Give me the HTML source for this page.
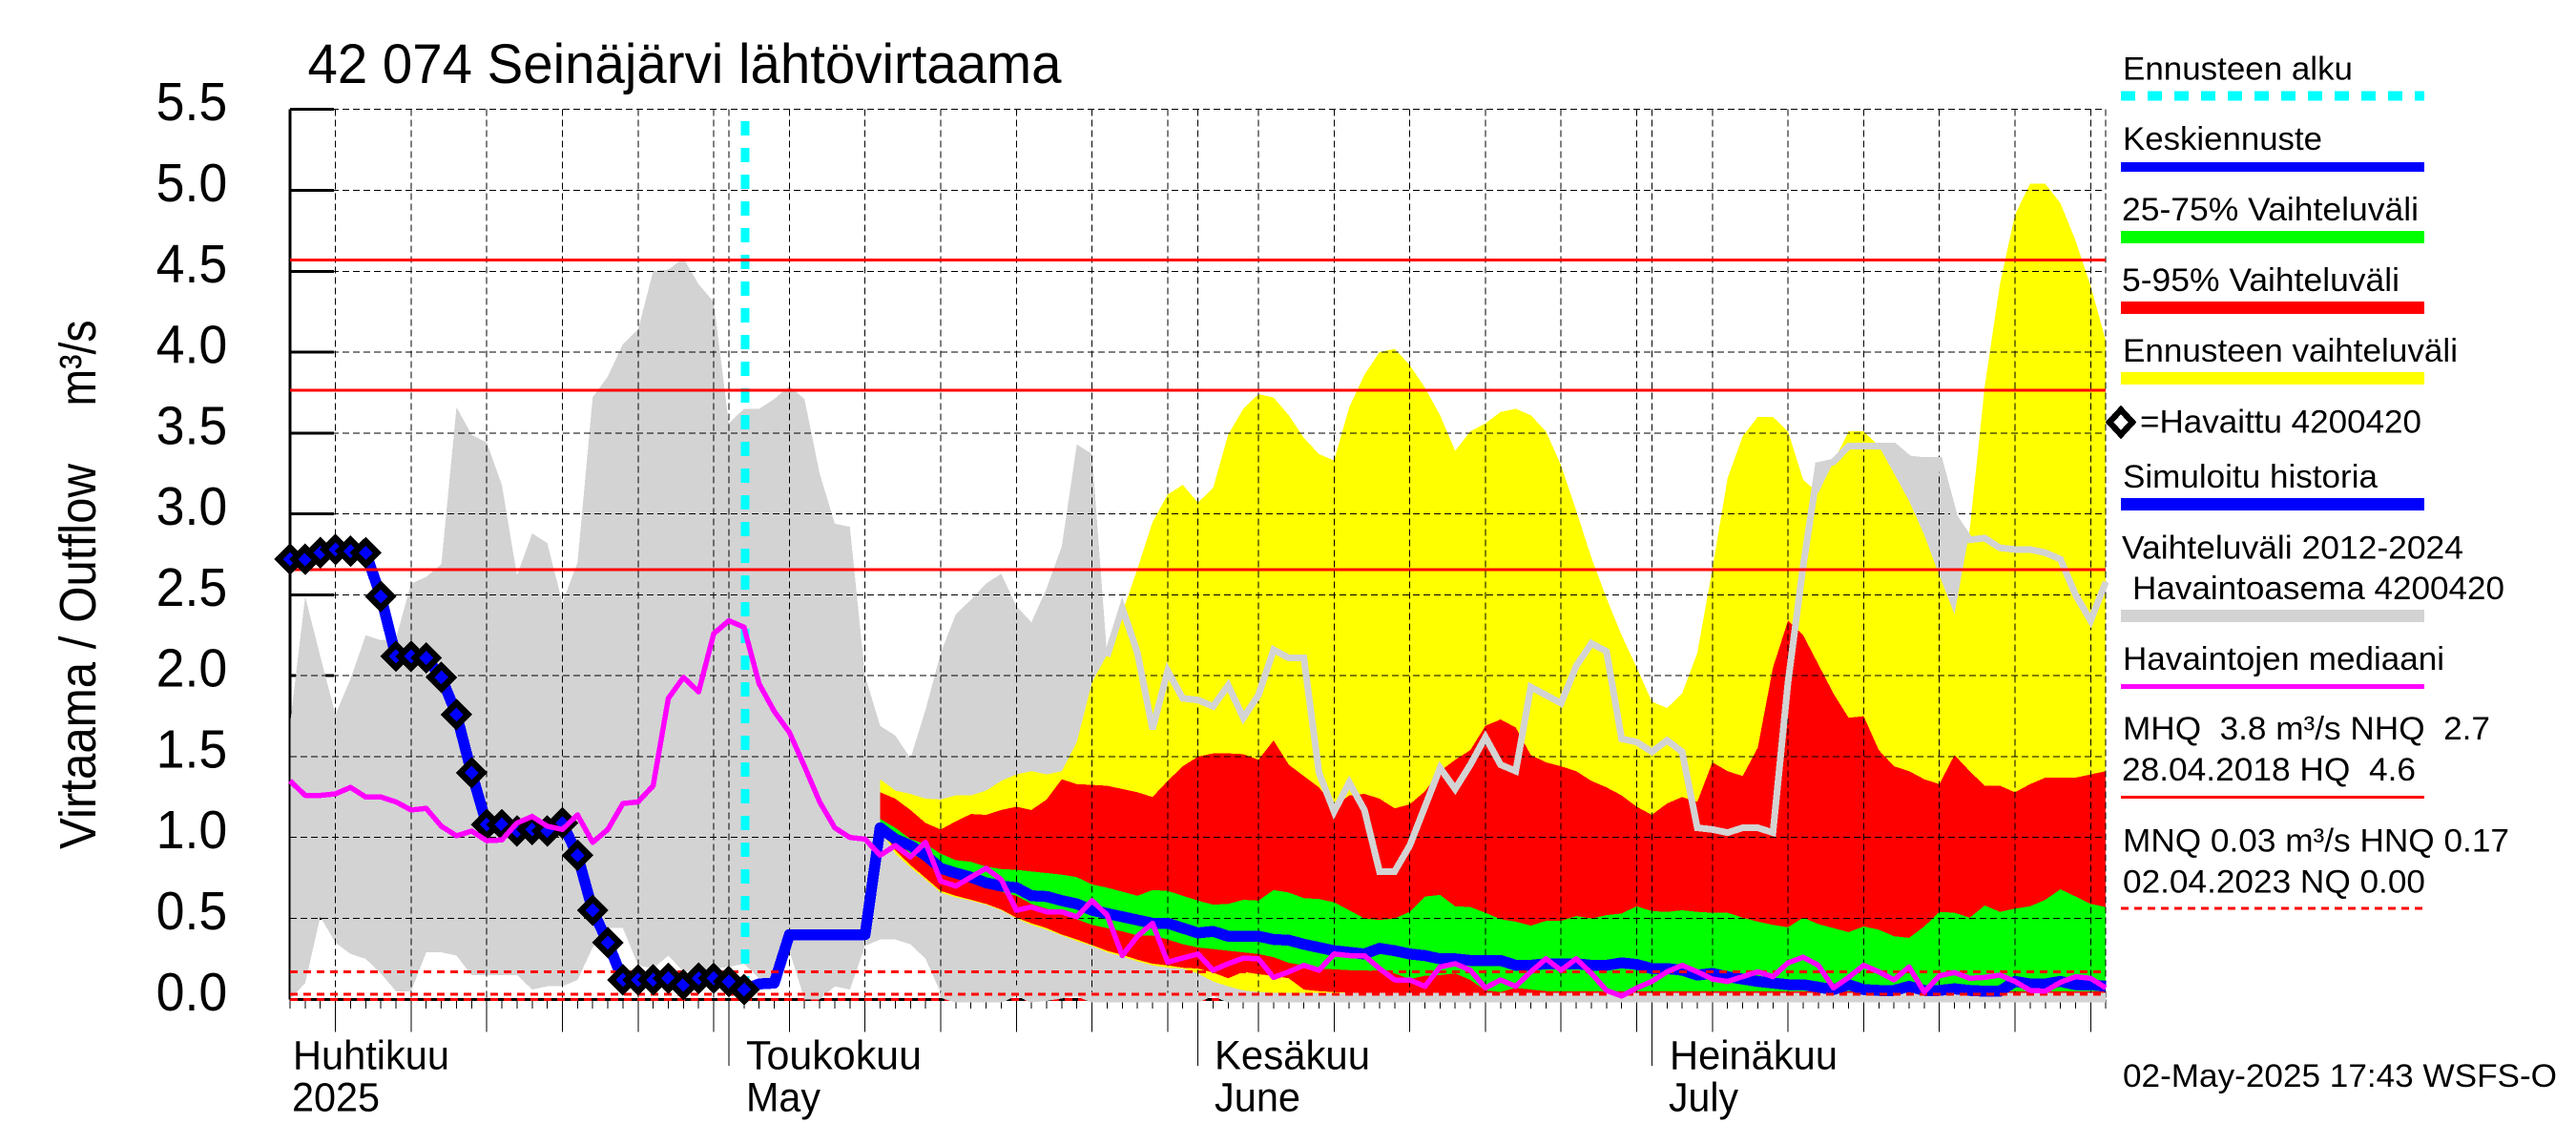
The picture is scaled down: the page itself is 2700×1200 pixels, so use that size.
<!DOCTYPE html>
<html lang="fi">
<head>
<meta charset="utf-8">
<title>42 074 Seinäjärvi lähtövirtaama</title>
<style>
html,body{margin:0;padding:0;background:#fff;width:2700px;height:1200px;overflow:hidden}
svg{display:block}
text{font-family:"Liberation Sans","DejaVu Sans",sans-serif;fill:#000}
.lg{font-size:34.5px}
.xl{font-size:42.5px}
</style>
</head>
<body>
<svg id="chart" xmlns="http://www.w3.org/2000/svg" width="2700" height="1200" viewBox="0 0 2700 1200" shape-rendering="crispEdges">
  <text x="322.5" y="87" font-size="58" textLength="790" lengthAdjust="spacingAndGlyphs">42 074 Seinäjärvi lähtövirtaama</text>
  <text transform="translate(100,890) rotate(-90)" font-size="54" textLength="404" lengthAdjust="spacingAndGlyphs">Virtaama / Outflow</text>
  <text transform="translate(100,425.5) rotate(-90)" font-size="54" textLength="90" lengthAdjust="spacingAndGlyphs">m³/s</text>

  <g id="axisBase"></g>
  <g id="bands"></g>
  <g id="grid"></g>
  <g id="lines"></g>

  <g>
    <text class="xl" x="307" y="1120.5" textLength="164" lengthAdjust="spacingAndGlyphs">Huhtikuu</text>
    <text class="xl" x="306" y="1164.5" textLength="92" lengthAdjust="spacingAndGlyphs">2025</text>
    <text class="xl" x="782" y="1120.5" textLength="184" lengthAdjust="spacingAndGlyphs">Toukokuu</text>
    <text class="xl" x="782" y="1164.5" textLength="78" lengthAdjust="spacingAndGlyphs">May</text>
    <text class="xl" x="1273" y="1120.5" textLength="163" lengthAdjust="spacingAndGlyphs">Kesäkuu</text>
    <text class="xl" x="1273" y="1164.5" textLength="90" lengthAdjust="spacingAndGlyphs">June</text>
    <text class="xl" x="1750" y="1120.5" textLength="176" lengthAdjust="spacingAndGlyphs">Heinäkuu</text>
    <text class="xl" x="1749" y="1164.5" textLength="73" lengthAdjust="spacingAndGlyphs">July</text>
  </g>

  <g>
    <text class="lg" x="2225" y="83.5" textLength="241" lengthAdjust="spacingAndGlyphs">Ennusteen alku</text>
    <line x1="2223" x2="2541" y1="100.5" y2="100.5" stroke="#00ffff" stroke-width="10" stroke-dasharray="15 13"/>
    <text class="lg" x="2225" y="157" textLength="209" lengthAdjust="spacingAndGlyphs">Keskiennuste</text>
    <rect x="2223" y="170" width="318" height="10" fill="#0000ff"/>
    <text class="lg" x="2224" y="231" textLength="311" lengthAdjust="spacingAndGlyphs">25-75% Vaihteluväli</text>
    <rect x="2223" y="242" width="318" height="13" fill="#00ff00"/>
    <text class="lg" x="2224" y="305" textLength="291" lengthAdjust="spacingAndGlyphs">5-95% Vaihteluväli</text>
    <rect x="2223" y="316" width="318" height="13" fill="#ff0000"/>
    <text class="lg" x="2225" y="379" textLength="351" lengthAdjust="spacingAndGlyphs">Ennusteen vaihteluväli</text>
    <rect x="2223" y="390" width="318" height="13" fill="#ffff00"/>
    <polygon points="2223,429.5 2235,442.5 2223,455.5 2211,442.5" fill="#fff" stroke="#000" stroke-width="6.5" stroke-linejoin="miter"/>
    <text class="lg" x="2243" y="453.5" textLength="295" lengthAdjust="spacingAndGlyphs">=Havaittu 4200420</text>
    <text class="lg" x="2225" y="511" textLength="267" lengthAdjust="spacingAndGlyphs">Simuloitu historia</text>
    <rect x="2223" y="522" width="318" height="13" fill="#0000ff"/>
    <text class="lg" x="2224" y="585.5" textLength="358" lengthAdjust="spacingAndGlyphs">Vaihteluväli 2012-2024</text>
    <text class="lg" x="2235" y="628" textLength="390" lengthAdjust="spacingAndGlyphs">Havaintoasema 4200420</text>
    <rect x="2223" y="639" width="318" height="13" fill="#d3d3d3"/>
    <text class="lg" x="2225" y="702" textLength="337" lengthAdjust="spacingAndGlyphs">Havaintojen mediaani</text>
    <rect x="2223" y="717" width="318" height="5" fill="#ff00ff"/>
    <text class="lg" x="2225" y="775" textLength="385" lengthAdjust="spacingAndGlyphs" xml:space="preserve">MHQ  3.8 m³/s NHQ  2.7</text>
    <text class="lg" x="2224" y="818" textLength="308" lengthAdjust="spacingAndGlyphs" xml:space="preserve">28.04.2018 HQ  4.6</text>
    <rect x="2223" y="834" width="318" height="3" fill="#ff0000"/>
    <text class="lg" x="2225" y="892.5" textLength="405" lengthAdjust="spacingAndGlyphs">MNQ 0.03 m³/s HNQ 0.17</text>
    <text class="lg" x="2225" y="935.5" textLength="317" lengthAdjust="spacingAndGlyphs">02.04.2023 NQ 0.00</text>
    <line x1="2223" x2="2541" y1="952" y2="952" stroke="#ff0000" stroke-width="3" stroke-dasharray="8 6"/>
    <text class="lg" x="2225" y="1139" textLength="455" lengthAdjust="spacingAndGlyphs">02-May-2025 17:43 WSFS-O</text>
  </g>
</svg>
<script>
// ---- chart data (daily values, day 0 = 2 April 2025, m3/s) ----
const yTickLabels = ["0.0","0.5","1.0","1.5","2.0","2.5","3.0","3.5","4.0","4.5","5.0","5.5"];
const yTickValues = [0,0.5,1,1.5,2,2.5,3,3.5,4,4.5,5,5.5];
const dayCount = 121;
const fiveDayGridDays = [3,8,13,18,23,28,33,38,43,48,53,58,64,69,74,79,84,89,94,99,104,109,114,119];
const monthStartDays = [29,60,90];
const highReferenceLevels = [4.57,3.765,2.655];
const lowReferenceLevels = [0.17,0.03];
const minimumFlowLevel = [0.0];
const forecastStartDay = 30;
const bandStartDay = 39;

const historyUpper = [1.70,2.49,2.12,1.76,1.98,2.25,2.22,2.23,2.57,2.61,2.69,3.66,3.49,3.44,3.18,2.62,2.88,2.82,2.45,2.70,
3.72,3.85,4.05,4.14,4.50,4.51,4.58,4.42,4.31,3.56,3.65,3.65,3.71,3.79,3.71,3.25,2.94,2.92,2.00,1.69,
1.63,1.49,1.79,2.14,2.38,2.47,2.57,2.63,2.43,2.33,2.54,2.80,3.43,3.37,2.12,2.42,2.14,1.67,2.03,1.86,
1.85,1.81,1.94,1.74,1.88,2.16,2.11,2.11,1.40,1.16,1.34,1.17,0.79,0.79,0.95,1.19,1.43,1.30,1.45,1.62,
1.45,1.41,1.93,1.88,1.83,2.06,2.20,2.15,1.61,1.59,1.53,1.60,1.53,1.06,1.05,1.03,1.06,1.06,1.03,1.96,
2.68,3.30,3.32,3.42,3.42,3.42,3.42,3.34,3.33,3.33,2.98,2.84,2.85,2.79,2.78,2.78,2.76,2.72,2.50,2.34,2.58];
const historyLower = [0,0.10,0.51,0.35,0.28,0.25,0.16,0.05,0.05,0.29,0.29,0.27,0.15,0.15,0.15,0.15,0.06,0.08,0.08,0.12,
0.32,0.44,0.44,0.21,0.19,0.27,0.17,0.18,0.19,0.20,0.22,0.13,0.10,0.30,0,0,0.08,0.06,0.33,0.37,
0.37,0.34,0.25,0.04,0.01,0.01,0.01,0.01,0.055,0.01,0.02,0.035,0.05,0.01,0.01,0.01,0.01,0.01,0.01,0.01,
0.01,0.055,0.01,0.01,0.01,0.01,0.01,0.01,0.01,0.01,0.01,0.01,0.01,0.01,0.01,0.01,0.01,0.01,0.01,0.01,
0.01,0.01,0.01,0.01,0.01,0.01,0.01,0.01,0.01,0.01,0.01,0.01,0.01,0.01,0.01,0.01,0.01,0.01,0.01,0.01,
0.01,0.01,0.01,0.01,0.01,0.01,0.01,0.01,0.01,0.01,0.01,0.01,0.01,0.01,0.01,0.01,0.01,0.01,0.01,0.01,0.01];

// bands: first value is day 39
const yellowUpper = [1.36,1.29,1.27,1.24,1.235,1.26,1.26,1.29,1.35,1.39,1.41,1.39,1.41,1.59,1.96,2.13,2.39,2.66,2.95,3.12,
3.18,3.07,3.16,3.49,3.65,3.74,3.72,3.61,3.47,3.37,3.33,3.66,3.86,4.00,4.02,3.92,3.78,3.61,3.39,3.51,
3.56,3.63,3.65,3.61,3.51,3.30,3.02,2.73,2.48,2.25,2.05,1.84,1.80,1.89,2.14,2.66,3.22,3.48,3.60,3.60,
3.51,3.21,3.13,3.32,3.51,3.51,3.42,3.25,3.08,2.87,2.62,2.38,2.90,3.79,4.42,4.85,5.04,5.04,4.92,4.69,4.41,4.07];
const yellowLower = [1.05,0.90,0.815,0.74,0.66,0.63,0.61,0.585,0.55,0.50,0.46,0.43,0.395,0.36,0.33,0.29,0.265,0.235,0.21,0.195,
0.19,0.16,0.11,0.08,0.055,0.045,0.04,0.03,0.03,0.03,0.02,0.02,0.02,0.02,0.02,0.02,0.02,0.02,0.02,0.02,
0.02,0.02,0.02,0.02,0.02,0.02,0.02,0.02,0.02,0.02,0.02,0.02,0.02,0.02,0.02,0.02,0.02,0.02,0.02,0.02,
0.02,0.02,0.02,0.02,0.02,0.02,0.02,0.02,0.02,0.02,0.02,0.02,0.02,0.02,0.02,0.02,0.02,0.02,0.02,0.02,0.02,0.02];
const redUpper = [1.28,1.24,1.17,1.09,1.05,1.10,1.145,1.14,1.17,1.19,1.17,1.235,1.36,1.33,1.325,1.32,1.30,1.28,1.25,1.35,
1.44,1.50,1.52,1.52,1.515,1.48,1.60,1.45,1.38,1.31,1.19,1.26,1.27,1.24,1.18,1.205,1.285,1.41,1.48,1.54,
1.69,1.73,1.68,1.51,1.465,1.44,1.41,1.35,1.31,1.26,1.19,1.14,1.21,1.25,1.22,1.465,1.41,1.38,1.555,2.05,
2.34,2.25,2.07,1.89,1.74,1.75,1.54,1.44,1.41,1.36,1.33,1.51,1.41,1.32,1.32,1.28,1.33,1.37,1.37,1.37,1.39,1.41];
const redLower = [1.07,0.92,0.83,0.75,0.67,0.64,0.615,0.59,0.555,0.505,0.47,0.44,0.40,0.37,0.335,0.30,0.275,0.245,0.22,0.21,
0.195,0.19,0.165,0.13,0.17,0.155,0.145,0.13,0.06,0.05,0.045,0.04,0.04,0.04,0.04,0.04,0.04,0.04,0.04,0.04,
0.04,0.04,0.04,0.04,0.04,0.04,0.04,0.04,0.04,0.04,0.04,0.04,0.04,0.04,0.04,0.04,0.04,0.04,0.04,0.04,
0.04,0.04,0.04,0.04,0.04,0.04,0.04,0.04,0.04,0.04,0.04,0.04,0.04,0.04,0.04,0.04,0.04,0.04,0.04,0.04,0.04,0.04];
const greenUpper = [1.115,1.06,0.99,0.96,0.90,0.86,0.85,0.82,0.805,0.80,0.79,0.78,0.77,0.755,0.71,0.69,0.665,0.64,0.675,0.67,
0.64,0.61,0.585,0.59,0.615,0.61,0.675,0.66,0.625,0.62,0.60,0.55,0.50,0.49,0.50,0.54,0.635,0.645,0.575,0.57,
0.535,0.495,0.48,0.455,0.485,0.485,0.515,0.50,0.52,0.53,0.575,0.545,0.54,0.55,0.54,0.535,0.535,0.505,0.48,0.46,
0.445,0.505,0.465,0.44,0.415,0.45,0.43,0.39,0.38,0.45,0.54,0.535,0.505,0.58,0.54,0.56,0.575,0.615,0.68,0.635,0.59,0.57];
const greenLower = [1.03,0.98,0.90,0.86,0.78,0.75,0.725,0.70,0.665,0.64,0.59,0.56,0.53,0.495,0.46,0.44,0.42,0.395,0.395,0.37,
0.34,0.32,0.31,0.30,0.29,0.28,0.26,0.225,0.21,0.19,0.185,0.18,0.18,0.17,0.16,0.125,0.145,0.15,0.16,0.12,
0.055,0.045,0.07,0.06,0.05,0.05,0.05,0.05,0.05,0.05,0.05,0.05,0.05,0.05,0.05,0.05,0.05,0.05,0.05,0.05,
0.05,0.05,0.05,0.05,0.05,0.05,0.05,0.05,0.05,0.05,0.05,0.05,0.05,0.05,0.05,0.05,0.05,0.05,0.05,0.05,0.05,0.05];

const observed = [2.72,2.72,2.76,2.78,2.77,2.76,2.49,2.12,2.12,2.11,1.99,1.76,1.40,1.08,1.08,1.04,1.05,1.04,1.09,0.89,
0.55,0.35,0.12,0.12,0.12,0.13,0.09,0.13,0.13,0.11,0.06];
const meanFlow = [2.72,2.72,2.76,2.78,2.77,2.76,2.49,2.12,2.12,2.11,1.99,1.76,1.40,1.08,1.08,1.04,1.05,1.04,1.09,0.89,
0.55,0.35,0.12,0.12,0.12,0.13,0.09,0.13,0.13,0.11,0.06,0.095,0.10,0.40,0.40,0.40,0.40,0.40,0.40,1.06,
0.99,0.95,0.89,0.81,0.78,0.755,0.72,0.70,0.69,0.64,0.635,0.61,0.59,0.55,0.53,0.51,0.49,0.47,0.47,0.44,
0.41,0.42,0.39,0.39,0.39,0.37,0.365,0.34,0.32,0.30,0.29,0.28,0.315,0.30,0.28,0.27,0.25,0.25,0.24,0.24,
0.24,0.21,0.21,0.22,0.22,0.22,0.21,0.21,0.225,0.215,0.19,0.19,0.18,0.15,0.16,0.14,0.125,0.11,0.10,0.09,
0.09,0.075,0.06,0.09,0.06,0.055,0.055,0.08,0.055,0.055,0.065,0.055,0.05,0.05,0.11,0.095,0.095,0.11,0.09,0.09,0.08];
const median = [1.35,1.26,1.26,1.27,1.31,1.25,1.25,1.22,1.17,1.18,1.07,1.01,1.04,0.98,0.985,1.09,1.13,1.07,1.05,1.14,
0.97,1.05,1.21,1.22,1.32,1.86,1.99,1.90,2.26,2.34,2.30,1.95,1.78,1.65,1.44,1.22,1.06,1.00,0.99,0.89,
0.95,0.88,0.97,0.73,0.70,0.755,0.81,0.74,0.55,0.57,0.54,0.54,0.51,0.61,0.52,0.27,0.39,0.47,0.23,0.255,
0.28,0.18,0.22,0.255,0.25,0.135,0.17,0.21,0.18,0.28,0.27,0.27,0.19,0.12,0.12,0.08,0.20,0.22,0.18,0.07,
0.12,0.08,0.17,0.25,0.18,0.25,0.16,0.055,0.02,0.07,0.11,0.17,0.21,0.17,0.125,0.11,0.14,0.17,0.14,0.225,
0.26,0.21,0.07,0.135,0.21,0.17,0.12,0.20,0.045,0.145,0.165,0.13,0.135,0.15,0.11,0.055,0.05,0.105,0.14,0.13,0.07];

// ---- axis functions ----
const plotLeft = 304, plotRight = 2207.2, plotBase = 1047.3, plotTop = 114.7;
const pxPerDay = (plotRight - plotLeft) / (dayCount - 1);
const pxPerUnit = (plotBase - plotTop) / 5.5;
function xOf(day){ return plotLeft + pxPerDay * day; }
function yOf(v){ return plotBase - pxPerUnit * v; }

const NS = "http://www.w3.org/2000/svg";
function mk(parent, tag, attrs, text){
  const el = document.createElementNS(NS, tag);
  for (const k in attrs) el.setAttribute(k, attrs[k]);
  if (text !== undefined) el.textContent = text;
  parent.appendChild(el);
  return el;
}
function seriesPoints(values, startDay, from, to){
  const pts = [];
  values.forEach(function(v, i){
    const d = startDay + i;
    if ((from === undefined || d >= from) && (to === undefined || d <= to)) pts.push(xOf(d).toFixed(1) + "," + yOf(v).toFixed(1));
  });
  return pts;
}
function bandPoints(upper, lower, startDay){
  return seriesPoints(upper, startDay).concat(seriesPoints(lower, startDay).reverse()).join(" ");
}

const axisBase = document.getElementById("axisBase");
const bands = document.getElementById("bands");
const grid = document.getElementById("grid");
const lines = document.getElementById("lines");
let el;

// y axis spine, thick ticks and labels
el = mk(axisBase, "line", {x1:plotLeft, x2:plotLeft, y1:plotTop, y2:plotBase, stroke:"#000", "stroke-width":3});


yTickValues.forEach(function(v, i){
  const tick = mk(axisBase, "line", {x1:plotLeft, x2:plotLeft + 46, y1:yOf(v), y2:yOf(v), stroke:"#000", "stroke-width":3});
  
  
  const label = mk(axisBase, "text", {x:163.6, y:yOf(v) + 11.5, "font-size":56.5, textLength:74.6, lengthAdjust:"spacingAndGlyphs"}, yTickLabels[i]);
  
  
});
// x axis line and ticks
el = mk(axisBase, "line", {x1:plotLeft, x2:plotRight, y1:plotBase, y2:plotBase, stroke:"#000", "stroke-width":3});


for (let d = 0; d < dayCount; d++){
  const tick = mk(axisBase, "line", {x1:xOf(d), x2:xOf(d), y1:plotBase, y2:plotBase + 9.5, stroke:"#000", "stroke-width":1});
  
  
}
fiveDayGridDays.forEach(function(d){
  const tick = mk(axisBase, "line", {x1:xOf(d), x2:xOf(d), y1:plotBase, y2:1081.5, stroke:"#000", "stroke-width":1});
  
  
});
monthStartDays.forEach(function(d){
  const tick = mk(axisBase, "line", {x1:xOf(d), x2:xOf(d), y1:plotBase, y2:1117, stroke:"#000", "stroke-width":1});
  
  
});
// NQ dashes sit on the axis line, underneath the history band
minimumFlowLevel.forEach(function(v){
  const r = mk(axisBase, "line", {x1:plotLeft, x2:plotRight, y1:yOf(v), y2:yOf(v), stroke:"#ff0000", "stroke-width":3, "stroke-dasharray":"8 6"});
  
  
});

// filled ranges
el = mk(bands, "polygon", {points:bandPoints(historyUpper, historyLower, 0), fill:"#d3d3d3"});


el = mk(bands, "polygon", {points:bandPoints(yellowUpper, yellowLower, bandStartDay), fill:"#ffff00"});


el = mk(bands, "polygon", {points:bandPoints(redUpper, redLower, bandStartDay), fill:"#ff0000"});


el = mk(bands, "polygon", {points:bandPoints(greenUpper, greenLower, bandStartDay), fill:"#00ff00"});



// dashed grid on top of fills
yTickValues.forEach(function(v){
  if (v === 0) return;
  const g = mk(grid, "line", {x1:plotLeft, x2:plotRight, y1:yOf(v), y2:yOf(v), stroke:"#000", "stroke-width":1, "stroke-dasharray":"7 4"});
  
  
});
[dayCount - 1].concat(fiveDayGridDays, monthStartDays).forEach(function(d){
  const g = mk(grid, "line", {x1:xOf(d), x2:xOf(d), y1:plotTop, y2:plotBase, stroke:"#000", "stroke-width":1, "stroke-dasharray":"7 4"});
  
  
});
el = mk(grid, "line", {x1:plotLeft, x2:plotLeft, y1:plotTop, y2:plotBase, stroke:"#000", "stroke-width":1});



// history outline over the forecast fills
el = mk(lines, "polyline", {points:seriesPoints(historyUpper, 0, 54).join(" "), fill:"none", stroke:"#d3d3d3", "stroke-width":7, "stroke-linejoin":"miter"});


el = mk(lines, "polyline", {points:seriesPoints(historyLower, 0, 43).join(" "), fill:"none", stroke:"#d3d3d3", "stroke-width":10});



// forecast start marker
el = mk(lines, "line", {x1:xOf(forecastStartDay) + 1, x2:xOf(forecastStartDay) + 1, y1:127, y2:1042, stroke:"#00ffff", "stroke-width":9, "stroke-dasharray":"15 13"});



// mean forecast / simulated history
el = mk(lines, "polyline", {points:seriesPoints(meanFlow, 0).join(" "), fill:"none", stroke:"#0000ff", "stroke-width":11.5, "stroke-linejoin":"round"});



// reference levels
highReferenceLevels.forEach(function(v){
  const r = mk(lines, "line", {x1:plotLeft, x2:plotRight, y1:yOf(v), y2:yOf(v), stroke:"#ff0000", "stroke-width":3});
  
  
});
lowReferenceLevels.forEach(function(v){
  const r = mk(lines, "line", {x1:plotLeft, x2:plotRight, y1:yOf(v), y2:yOf(v), stroke:"#ff0000", "stroke-width":3, "stroke-dasharray":"8 6"});
  
  
});

// observed markers
observed.forEach(function(v, i){
  const cx = xOf(i), cy = yOf(v), h = 12;
  const m = mk(lines, "polygon", {points:[cx + "," + (cy - h), (cx + h) + "," + cy, cx + "," + (cy + h), (cx - h) + "," + cy].join(" "), fill:"#0000ff", stroke:"#000", "stroke-width":6.5, "stroke-linejoin":"miter"});
  
  
});

// median
el = mk(lines, "polyline", {points:seriesPoints(median, 0).join(" "), fill:"none", stroke:"#ff00ff", "stroke-width":5.5, "stroke-linejoin":"round"});


</script>
</body>
</html>
